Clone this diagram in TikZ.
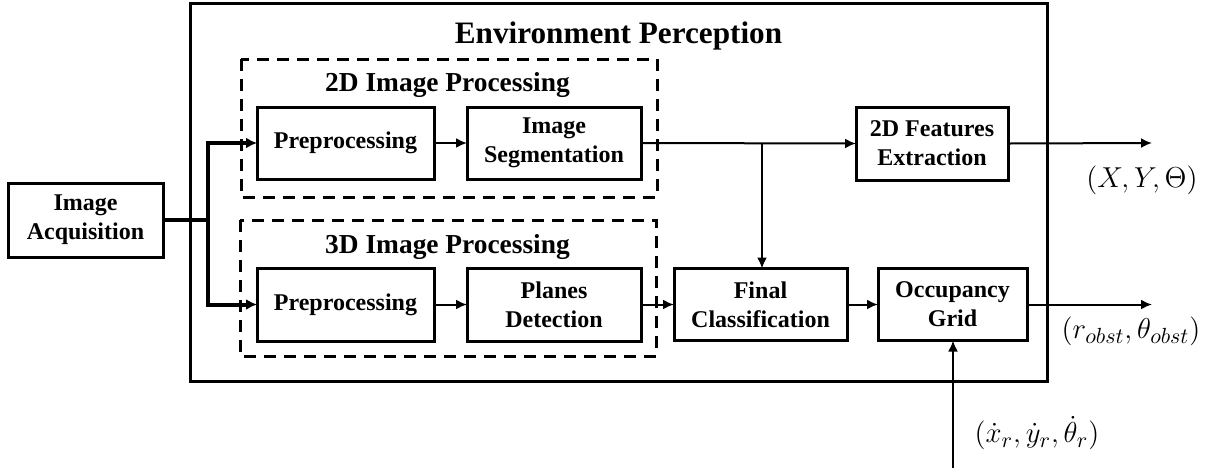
\documentclass[tikz,border=0pt]{standalone}
\usepackage{amsmath}
\usepackage{amssymb}
\usepackage{fontspec}
\setmainfont{Liberation Serif}
\usepackage{tikz}
\usetikzlibrary{arrows.meta}

\begin{document}
\begin{tikzpicture}[
		x=0.5pt, y=-0.5pt,
		every node/.style={inner sep=0pt, outer sep=0pt},
		block/.style={rectangle, draw, line width=1.5pt, align=center,
			font=\fontsize{12}{14.5}\selectfont\bfseries},
		group/.style={draw, line width=1.5pt, dash pattern=on 6pt off 4pt},
		heading/.style={anchor=base, font=\fontsize{13.7}{16}\selectfont\bfseries},
		signal/.style={font=\fontsize{15}{18}\selectfont},
		link/.style={line width=1pt, -{Latex[length=5.5pt,width=5pt]}},
		feed/.style={line width=2pt, -{Latex[length=5.5pt,width=5.5pt]}}
	]
  \useasboundingbox (0,0) rectangle (1221,468);
  % frames
  \draw [line width=1.5pt] (190,3) rectangle (1047,381);
  \draw [group] (241,59) rectangle (657,197);
  \draw [group] (240,220) rectangle (656,356);
  \node (env_title) [heading, font=\fontsize{15.6}{18}\selectfont\bfseries] at (618.5,43) {Environment Perception};
  \node (proc_2d) [heading] at (447.5,91) {2D Image Processing};
  \node (proc_3d) [heading] at (447.5,253) {3D Image Processing};
  % blocks
  \node (acq) [block, minimum width=77.5pt, minimum height=37pt] at (85.5,220) {Image\\Acquisition};
  \node (pre_2d) [block, minimum width=88.5pt, minimum height=36pt] at (345.5,143) {Preprocessing};
  \node (seg) [block, minimum width=87pt, minimum height=36pt] at (554,143) {Image\\Segmentation};
  \node (feat) [block, minimum width=76pt, minimum height=36.5pt] at (932,143.5) {2D Features\\Extraction};
  \node (pre_3d) [block, minimum width=88.5pt, minimum height=36.5pt] at (345.5,304.5) {Preprocessing};
  \node (planes) [block, minimum width=87pt, minimum height=36.5pt] at (554,304.5) {Planes\\Detection};
  \node (final) [block, minimum width=86.5pt, minimum height=36pt] at (760.5,304.5) {Final\\Classification};
  \node (occ) [block, minimum width=74.5pt, minimum height=36pt] at (952.5,304.5) {Occupancy\\Grid};
  % free ends
  \coordinate (split) at (208,220);
  \coordinate (tap) at (762,143);
  \coordinate (out_pose) at (1152,143);
  \coordinate (out_obst) at (1152,304.5);
  \coordinate (in_odo) at (953,468);
  % connectors
  \draw [line width=2pt] (acq.east) -- (split);
  \draw [feed] (split) |- (pre_2d.west);
  \draw [feed] (split) |- (pre_3d.west);
  \draw [link] (pre_2d) -- (seg);
  \draw [link] (pre_3d) -- (planes);
  \draw [link] (seg.east) -- (feat.west);
  \draw [link] (tap) -- (tap |- final.north);
  \draw [link] (planes) -- (final);
  \draw [link] (final) -- (occ);
  \draw [link] (feat.east) -- (out_pose);
  \draw [link] (occ.east) -- (out_obst);
  \draw [link] (in_odo) -- (in_odo |- occ.south);
  % signals
  \node (lab_pose) [signal] at (1142,180) {$(X,Y,\Theta)$};
  \node (lab_obst) [signal] at (1131,331) {$(r_{obst},\theta_{obst})$};
  \node (lab_odo) [signal] at (1037,433) {$(\dot{x}_r,\dot{y}_r,\dot{\theta}_r)$};
\end{tikzpicture}
\end{document}
